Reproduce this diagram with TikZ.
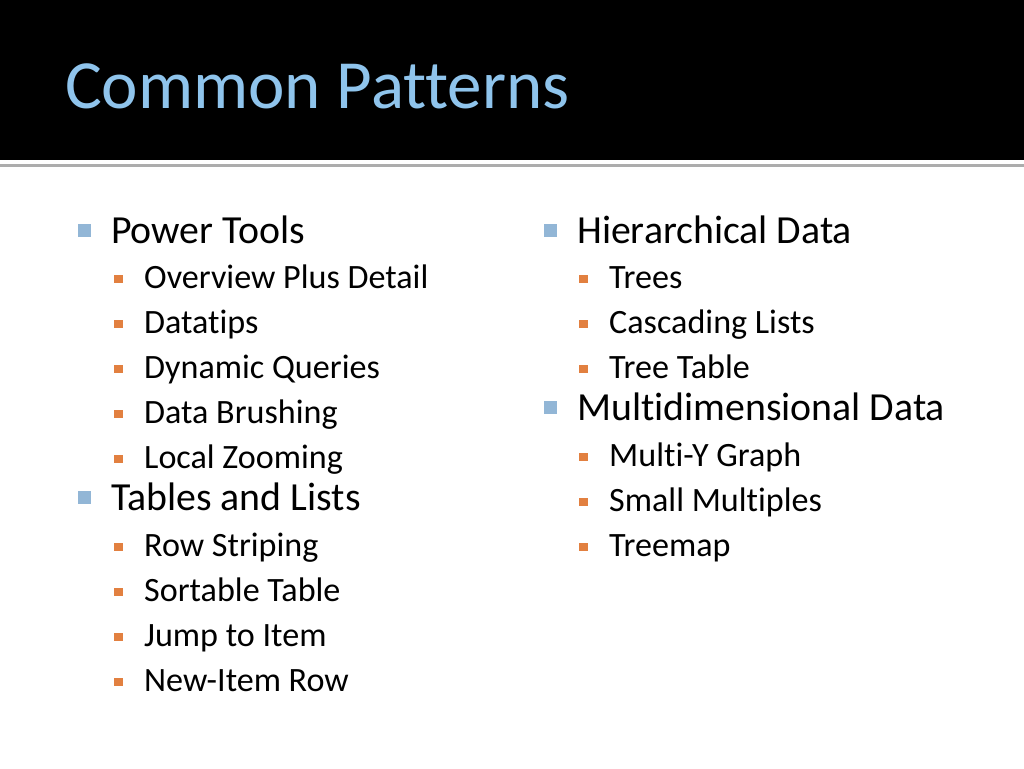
\documentclass[tikz,border=0pt]{standalone}
\usepackage{fontspec}
\setmainfont{Carlito}[Ligatures={TeX,NoCommon}]
\usetikzlibrary{positioning}
\definecolor{titleblue}{RGB}{143,196,236}
\definecolor{bulblue}{RGB}{146,182,214}
\definecolor{bulorange}{RGB}{226,128,64}
\tikzset{
  lvlone/.style={anchor=base west,inner sep=0pt,font=\fontsize{39.8}{46}\selectfont},
  lvltwo/.style={anchor=base west,inner sep=0pt,font=\fontsize{34.1}{40}\selectfont},
  bulone/.style={fill=bulblue,inner sep=0pt,minimum size=12.5pt,left=20pt of #1,yshift=12.5pt},
  bultwo/.style={fill=bulorange,inner sep=0pt,minimum size=8.5pt,left=21pt of #1,yshift=9pt}
}
\begin{document}
\begin{tikzpicture}[x=1pt,y=-1pt]
		\useasboundingbox (0,0) rectangle (1024,768);
		\fill[black] (0,0) rectangle (1024,160); %header
		\fill[gray!65] (0,163.5) rectangle (1024,167); %rule under header
		\node[anchor=base west,inner sep=0pt,text=titleblue,font=\fontsize{69}{80}\selectfont] (title) at (65,108) {Common Patterns};

		% left column
		\node[lvlone] (power) at (111,243) {Power Tools};
		\node[bulone=power.base west] {};
		\node[lvltwo] (overview) at (144,288) {Overview Plus Detail};
		\node[bultwo=overview.base west] {};
		\node[lvltwo] (datatips) at (144,333) {Datatips};
		\node[bultwo=datatips.base west] {};
		\node[lvltwo] (dynamic) at (144,378) {Dynamic Queries};
		\node[bultwo=dynamic.base west] {};
		\node[lvltwo] (brushing) at (144,423) {Data Brushing};
		\node[bultwo=brushing.base west] {};
		\node[lvltwo] (zooming) at (144,468) {Local Zooming};
		\node[bultwo=zooming.base west] {};
		\node[lvlone] (tables) at (111,510) {Tables and Lists};
		\node[bulone=tables.base west] {};
		\node[lvltwo] (striping) at (144,556) {Row Striping};
		\node[bultwo=striping.base west] {};
		\node[lvltwo] (sortable) at (144,601) {Sortable Table};
		\node[bultwo=sortable.base west] {};
		\node[lvltwo] (jump) at (144,646) {Jump to Item};
		\node[bultwo=jump.base west] {};
		\node[lvltwo] (newrow) at (144,691) {New-Item Row};
		\node[bultwo=newrow.base west] {};

		% right column
		\node[lvlone] (hier) at (577,243) {Hierarchical Data};
		\node[bulone=hier.base west] {};
		\node[lvltwo] (trees) at (609,288) {Trees};
		\node[bultwo=trees.base west] {};
		\node[lvltwo] (cascading) at (609,333) {Cascading Lists};
		\node[bultwo=cascading.base west] {};
		\node[lvltwo] (treetable) at (609,378) {Tree Table};
		\node[bultwo=treetable.base west] {};
		\node[lvlone] (multidim) at (577,420) {Multidimensional Data};
		\node[bulone=multidim.base west] {};
		\node[lvltwo] (multiy) at (609,466) {Multi-Y Graph};
		\node[bultwo=multiy.base west] {};
		\node[lvltwo] (smallmult) at (609,511) {Small Multiples};
		\node[bultwo=smallmult.base west] {};
		\node[lvltwo] (treemap) at (609,556) {Treemap};
		\node[bultwo=treemap.base west] {};
	\end{tikzpicture}
\end{document}
